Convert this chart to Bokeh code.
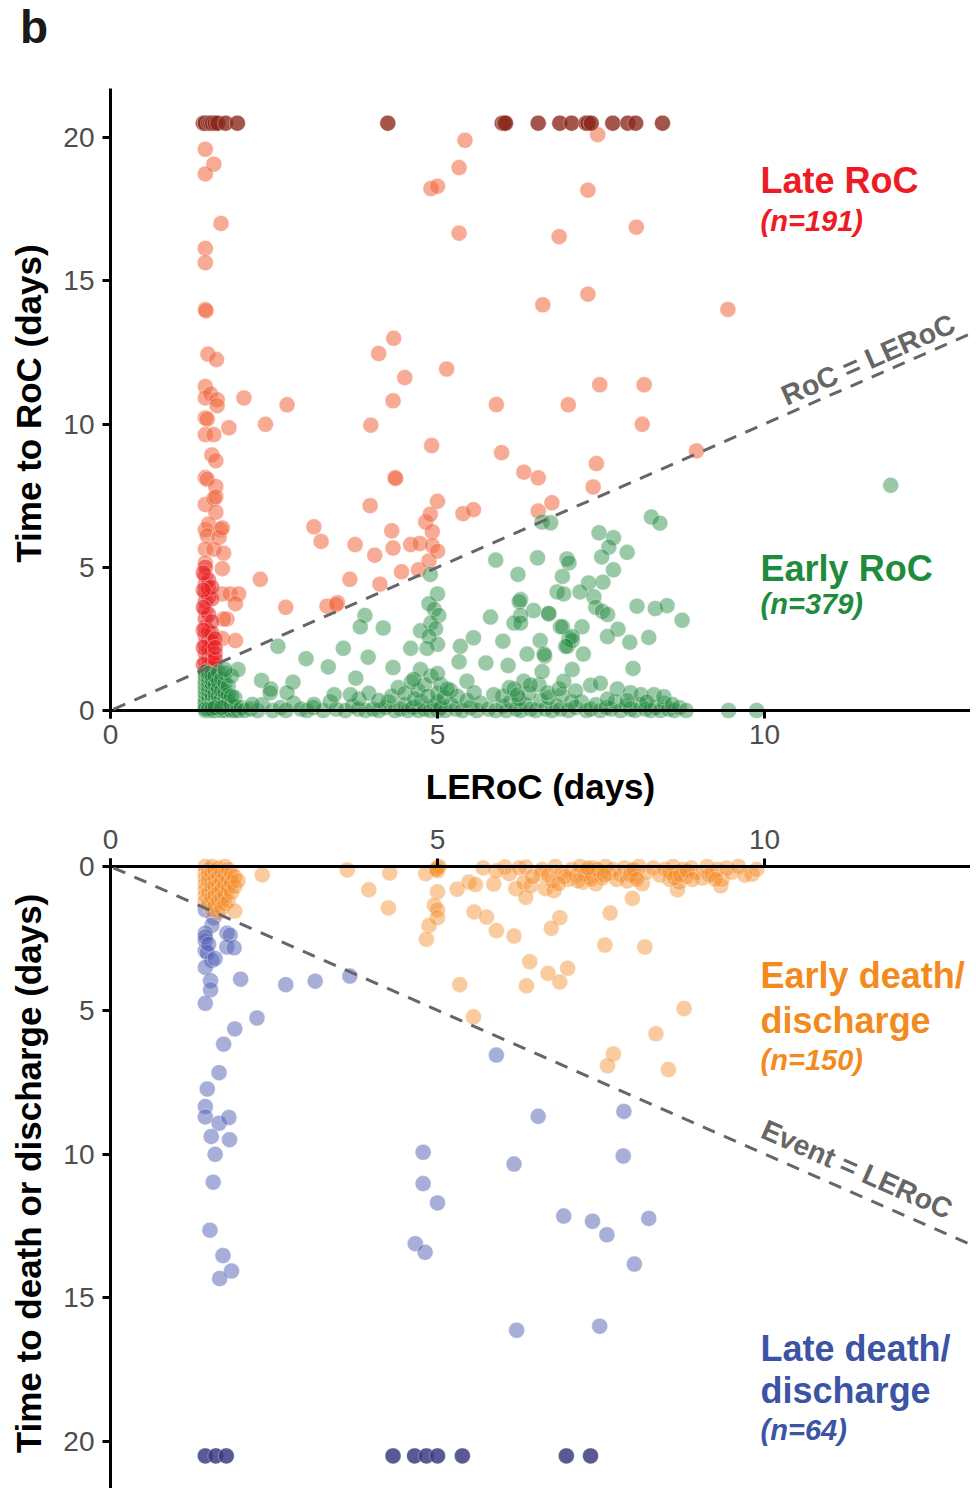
import math
from bokeh.plotting import figure
from bokeh.layouts import column
from bokeh.models import Range1d, FixedTicker, Label, Slope, Span, Div
from bokeh.embed import file_html
from bokeh.resources import INLINE

FONT = "Liberation Sans"
X_TICKS = [0, 5, 10]
Y_TICKS = [0, 5, 10, 15, 20]
CENSORED = 20.5

# ---------------- top panel: time to RoC vs LERoC ----------------
late_roc = [
    (1.45, 19.59), (1.58, 19.07), (1.45, 18.73), (1.69, 17.00), (1.45, 16.13), (1.45, 15.63),
    (1.45, 14.0), (1.46, 13.95), (1.49, 12.44), (1.62, 12.25), (1.45, 11.31), (1.45, 10.91),
    (1.53, 11.05), (1.63, 10.85), (1.63, 10.64), (2.04, 10.91), (2.70, 10.67), (2.37, 9.99),
    (1.81, 9.87), (1.45, 10.21), (1.48, 10.17), (1.45, 9.63), (1.58, 9.63), (1.55, 8.92),
    (1.61, 8.72), (1.45, 8.13), (1.48, 8.07), (1.61, 7.82), (1.45, 7.19), (1.58, 7.39),
    (1.61, 7.46), (1.61, 6.92), (1.45, 6.31), (1.50, 6.51), (1.48, 6.10), (1.68, 6.31),
    (1.66, 6.04), (1.71, 6.37), (1.45, 5.63), (1.58, 5.63), (1.73, 5.49), (1.45, 5.15),
    (1.71, 4.95), (1.71, 4.07), (1.83, 4.07), (1.96, 4.07), (1.91, 3.73), (1.78, 3.19),
    (1.73, 3.19), (1.71, 2.51), (1.91, 2.44), (2.29, 4.58), (2.68, 3.60), (3.11, 6.41),
    (3.22, 5.90), (3.31, 3.64), (3.47, 3.76), (3.45, 3.70), (3.66, 4.58), (3.74, 5.79),
    (3.97, 7.15), (4.04, 5.42), (4.12, 4.41), (3.98, 9.96), (4.10, 12.46), (4.33, 12.99),
    (4.50, 11.62), (4.32, 10.81), (4.30, 6.27), (4.32, 5.67), (4.35, 8.13), (4.36, 8.10),
    (4.45, 4.84), (4.59, 5.79), (4.73, 5.83), (4.71, 4.91), (4.87, 5.22), (4.82, 6.58),
    (4.89, 6.85), (4.92, 6.24), (4.92, 5.76), (5.00, 5.56), (5.00, 7.30), (4.91, 9.25),
    (5.14, 11.92), (5.33, 16.66), (4.90, 18.22), (5.00, 18.30), (5.33, 18.95), (5.42, 19.90),
    (5.39, 6.87), (5.55, 7.01), (5.90, 10.68), (5.98, 9.00), (6.32, 8.32), (6.54, 8.12),
    (6.75, 7.25), (6.54, 6.96), (6.61, 14.16), (6.86, 16.54), (7.00, 10.67), (7.45, 20.10),
    (7.30, 18.16), (8.04, 16.87), (7.30, 14.53), (9.44, 14.00), (7.48, 11.37), (8.16, 11.37),
    (8.13, 9.99), (8.96, 9.06), (7.43, 8.62), (7.38, 7.80),
]
late_roc_dense = [
    (1.45, 1.4), (1.45, 1.7), (1.45, 2.0), (1.45, 2.3), (1.45, 2.6), (1.45, 2.9), (1.45, 3.2),
    (1.45, 3.5), (1.45, 3.8), (1.45, 4.1), (1.45, 4.4), (1.45, 4.7), (1.45, 5.0),
    (1.50, 1.55), (1.50, 1.85), (1.50, 2.15), (1.50, 2.45), (1.50, 2.75), (1.50, 3.35),
    (1.50, 3.95), (1.50, 4.25), (1.50, 4.55), (1.55, 1.5), (1.55, 1.8), (1.55, 2.1),
    (1.55, 2.4), (1.55, 2.7), (1.55, 3.1), (1.55, 3.9), (1.55, 4.3), (1.42, 1.6), (1.42, 2.2),
    (1.42, 2.8), (1.42, 3.6), (1.42, 4.2), (1.42, 4.8), (1.60, 1.6), (1.60, 2.0), (1.60, 2.5),
    (1.60, 1.8), (1.60, 2.2),
]
late_roc_censored_x = [1.42, 1.45, 1.45, 1.50, 1.53, 1.56, 1.60, 1.64, 1.76, 1.94, 4.24,
                       5.99, 6.02, 6.04, 6.54, 6.87, 7.05, 7.27, 7.30, 7.35, 7.68, 7.91,
                       8.03, 8.44]

early_roc = [
    # dense cluster at LERoC ~1.5
    (1.45, 0.0), (1.45, 0.1), (1.45, 0.2), (1.45, 0.3), (1.45, 0.45), (1.45, 0.6), (1.45, 0.75),
    (1.45, 0.9), (1.45, 1.05), (1.45, 1.2), (1.45, 1.35), (1.50, 0.0), (1.50, 0.15), (1.50, 0.35),
    (1.50, 0.5), (1.50, 0.7), (1.50, 0.85), (1.50, 1.0), (1.50, 1.15), (1.50, 1.3), (1.55, 0.0),
    (1.55, 0.1), (1.55, 0.25), (1.55, 0.4), (1.55, 0.55), (1.55, 0.8), (1.55, 0.95), (1.55, 1.1),
    (1.55, 1.25), (1.60, 0.0), (1.60, 0.2), (1.60, 0.4), (1.60, 0.6), (1.60, 0.9), (1.60, 1.2),
    (1.65, 0.05), (1.65, 0.3), (1.65, 0.5), (1.65, 0.75), (1.65, 1.0), (1.65, 1.35), (1.70, 0.0),
    (1.70, 0.2), (1.70, 0.45), (1.70, 0.7), (1.70, 1.1), (1.75, 0.0), (1.75, 0.15), (1.75, 0.4),
    (1.75, 0.65), (1.75, 0.95), (1.75, 1.3), (1.80, 0.05), (1.80, 0.3), (1.80, 0.55), (1.80, 0.85),
    (1.85, 0.0), (1.85, 0.2), (1.85, 0.5), (1.85, 1.2), (1.90, 0.0), (1.90, 0.15), (1.90, 0.45),
    (1.95, 0.0), (2.00, 0.1), (1.45, 0.05), (1.50, 0.05), (1.55, 0.05), (1.60, 0.1), (1.70, 0.1),
    # strip along the axis
    (2.05, 0.0), (2.14, 0.05), (2.25, 0.0), (2.32, 0.2), (2.48, 0.0), (2.60, 0.1), (2.68, 0.0),
    (2.80, 0.25), (2.91, 0.05), (3.00, 0.0), (3.10, 0.1), (3.25, 0.0), (3.36, 0.3), (3.45, 0.05),
    (3.59, 0.0), (3.70, 0.15), (3.79, 0.05), (3.90, 0.0), (4.01, 0.05), (4.10, 0.0), (4.20, 0.1),
    (4.25, 0.3), (4.35, 0.0), (4.43, 0.05), (4.50, 0.2), (4.55, 0.0), (4.62, 0.1), (4.71, 0.0),
    (4.75, 0.3), (4.80, 0.05), (4.89, 0.0), (4.95, 0.15), (5.00, 0.0), (5.00, 0.3), (5.05, 0.1),
    (5.12, 0.0), (5.20, 0.2), (5.28, 0.05), (5.38, 0.0), (5.50, 0.1), (5.60, 0.0), (5.66, 0.25),
    (5.78, 0.05), (5.89, 0.0), (6.00, 0.15), (6.05, 0.0), (6.12, 0.3), (6.20, 0.05), (6.27, 0.0),
    (6.35, 0.2), (6.42, 0.05), (6.50, 0.0), (6.58, 0.35), (6.65, 0.05), (6.75, 0.0), (6.82, 0.15),
    (6.88, 0.05), (7.00, 0.0), (7.11, 0.1), (7.20, 0.3), (7.28, 0.0), (7.34, 0.05), (7.42, 0.2),
    (7.49, 0.0), (7.58, 0.1), (7.65, 0.05), (7.72, 0.3), (7.80, 0.0), (7.88, 0.15), (7.95, 0.05),
    (8.02, 0.0), (8.10, 0.2), (8.18, 0.05), (8.26, 0.0), (8.33, 0.1), (8.41, 0.0), (8.47, 0.25),
    (8.53, 0.05), (8.62, 0.0), (8.70, 0.1), (8.80, 0.0), (9.45, 0.0), (9.88, 0.0),
    # just above the axis
    (4.30, 0.5), (4.40, 0.8), (4.50, 0.6), (4.60, 1.0), (4.65, 0.4), (4.70, 0.7), (4.80, 0.9),
    (4.85, 0.5), (4.90, 1.2), (5.00, 0.6), (5.05, 0.9), (5.10, 0.45), (5.20, 0.7), (5.30, 0.5),
    (5.45, 0.35), (3.80, 0.4), (3.95, 0.6), (4.10, 0.35), (6.00, 0.5), (6.10, 0.8), (6.25, 0.4),
    (6.40, 0.6), (6.55, 0.9), (6.70, 0.45), (6.90, 0.55), (7.05, 0.3), (7.34, 0.88), (7.49, 0.95),
    (7.75, 0.75), (7.95, 0.62), (8.11, 0.55), (8.31, 0.55), (8.46, 0.48), (8.59, 0.21), (7.60, 0.4),
    (7.90, 0.35), (8.20, 0.3),
    # scattered
    (4.89, 4.75), (5.00, 4.07), (4.87, 3.73), (4.95, 3.53), (5.02, 3.32), (4.90, 3.05), (4.97, 2.85),
    (4.74, 2.78), (4.87, 2.58), (5.00, 2.31), (4.84, 2.17), (4.59, 2.17), (5.89, 5.25), (6.53, 5.33),
    (6.60, 6.58), (6.73, 6.55), (6.98, 5.29), (7.01, 5.15), (6.23, 4.75), (6.91, 4.68), (6.83, 4.14),
    (6.93, 4.07), (6.27, 3.87), (6.25, 3.80), (6.47, 3.49), (6.70, 3.37), (5.81, 3.26), (6.27, 3.32),
    (6.17, 3.05), (6.27, 3.05), (6.88, 2.92), (7.01, 2.51), (6.99, 2.24), (7.06, 2.44), (5.55, 2.54),
    (5.35, 2.24), (6.00, 2.42), (6.57, 2.44), (6.64, 1.90), (6.37, 1.97), (5.74, 1.66), (6.08, 1.57),
    (7.06, 1.43), (6.60, 1.36), (5.33, 1.70), (3.89, 3.32), (3.82, 2.92), (4.17, 2.88), (3.56, 2.17),
    (3.94, 1.86), (3.33, 1.52), (2.99, 1.81), (2.56, 2.24), (1.95, 1.43), (1.75, 1.43), (4.32, 1.50),
    (3.75, 1.13), (4.74, 1.43), (4.64, 1.09), (2.31, 1.05), (2.45, 0.75), (2.44, 0.62), (2.79, 0.99),
    (2.70, 0.62), (2.17, 0.21), (3.11, 0.21), (3.42, 0.55), (3.67, 0.55), (5.00, 1.29), (5.15, 0.75),
    (5.45, 1.02), (5.56, 0.62), (5.86, 0.55), (6.17, 0.75), (6.22, 0.55), (6.32, 1.02), (6.42, 0.89),
    (6.68, 0.62), (6.86, 0.75), (6.93, 1.02), (7.11, 0.68), (11.93, 7.86), (8.27, 6.75), (8.40, 6.54),
    (7.47, 6.20), (7.69, 6.03), (7.62, 5.70), (7.90, 5.52), (7.51, 5.36), (7.69, 4.91), (7.53, 4.48),
    (7.31, 4.45), (7.18, 4.14), (7.39, 3.97), (8.05, 3.64), (8.33, 3.56), (8.51, 3.66), (8.74, 3.15),
    (7.42, 3.60), (7.52, 3.46), (7.60, 3.35), (6.70, 3.39), (6.91, 2.92), (7.21, 2.92), (7.76, 2.84),
    (7.60, 2.58), (7.06, 2.58), (6.96, 2.24), (8.23, 2.55), (7.94, 2.38), (7.23, 1.97), (6.63, 1.97),
    (7.99, 1.47),
]

# ---------------- bottom panel: time to death or discharge ----------------
early_event = [
    (1.45, 0.0), (1.45, 0.2), (1.45, 0.4), (1.45, 0.6), (1.45, 0.8), (1.45, 1.0), (1.45, 1.2),
    (1.50, 0.1), (1.50, 0.3), (1.50, 0.5), (1.50, 0.9), (1.50, 1.3), (1.55, 0.0), (1.55, 0.25),
    (1.55, 0.55), (1.55, 0.75), (1.55, 1.1), (1.55, 1.5), (1.60, 0.15), (1.60, 0.45), (1.60, 0.7),
    (1.60, 1.0), (1.60, 1.35), (1.65, 0.05), (1.65, 0.35), (1.65, 0.65), (1.65, 0.9), (1.65, 1.2),
    (1.65, 1.6), (1.70, 0.2), (1.70, 0.5), (1.70, 0.8), (1.70, 1.1), (1.70, 1.45), (1.75, 0.0),
    (1.75, 0.3), (1.75, 0.6), (1.75, 1.0), (1.75, 1.3), (1.80, 0.1), (1.80, 0.45), (1.80, 0.75),
    (1.80, 1.2), (1.85, 0.25), (1.85, 0.55), (1.85, 0.9), (1.90, 0.35), (1.90, 0.7), (1.95, 0.5),
    (1.90, 1.55),
    (2.32, 0.29), (3.62, 0.12), (3.95, 0.81), (4.27, 0.23), (4.25, 1.44), (4.82, 0.25), (5.00, 0.05),
    (5.00, 0.15), (5.02, 0.0), (4.98, 0.1), (5.00, 0.88), (4.95, 1.35), (5.00, 1.51), (5.00, 1.78),
    (4.87, 2.05), (4.83, 2.53), (5.30, 0.79), (5.48, 0.54), (5.58, 0.63), (5.86, 0.61), (6.03, 0.02),
    (6.20, 0.77), (6.32, 0.56), (6.43, 0.66), (6.35, 1.07), (6.35, 0.02), (6.58, 0.27), (6.65, 0.77),
    (6.78, 0.84), (6.76, 0.50), (5.56, 1.58), (5.75, 1.76), (5.90, 2.23), (6.17, 2.42), (6.87, 1.78),
    (6.74, 2.15), (6.41, 3.31), (6.69, 3.72), (6.87, 4.02), (6.99, 3.54), (5.34, 4.11), (6.36, 4.15),
    (5.55, 5.23), (7.64, 1.62), (7.98, 1.11), (7.56, 2.73), (8.17, 2.80), (8.77, 4.94), (8.34, 5.82),
    (7.69, 6.52), (7.60, 6.93), (8.53, 7.06), (8.67, 0.81), (9.33, 0.67), (9.81, 0.27),
    (6.60, 0.1), (6.70, 0.3), (6.80, 0.0), (6.90, 0.2), (7.00, 0.45), (7.05, 0.1), (7.12, 0.3),
    (7.18, 0.0), (7.22, 0.55), (7.28, 0.15), (7.33, 0.35), (7.38, 0.05), (7.42, 0.6), (7.47, 0.2),
    (7.52, 0.4), (7.57, 0.0), (7.62, 0.25), (7.68, 0.1), (7.74, 0.45), (7.80, 0.3), (7.86, 0.05),
    (7.90, 0.5), (7.96, 0.15), (8.02, 0.35), (8.08, 0.0), (8.13, 0.6), (8.20, 0.2), (8.30, 0.05),
    (8.40, 0.3), (8.48, 0.1), (8.55, 0.45), (8.60, 0.0), (8.65, 0.25), (8.70, 0.55), (8.75, 0.1),
    (8.80, 0.35), (8.88, 0.05), (8.95, 0.2), (9.05, 0.4), (9.12, 0.0), (9.20, 0.25), (9.28, 0.1),
    (9.35, 0.45), (9.42, 0.05), (9.50, 0.2), (9.60, 0.0), (9.70, 0.3), (9.88, 0.1), (6.10, 0.25),
    (6.25, 0.05), (6.45, 0.35), (5.90, 0.15), (5.70, 0.05),
    (7.25, 0.25), (7.35, 0.45), (7.45, 0.1), (7.55, 0.3), (7.30, 0.05), (7.95, 0.3), (8.00, 0.1),
    (8.05, 0.45), (8.55, 0.2), (8.62, 0.4), (8.72, 0.3), (8.82, 0.15), (8.90, 0.45), (9.15, 0.3),
    (9.25, 0.45), (7.15, 0.5), (6.95, 0.35), (6.85, 0.6),
]
late_event = [
    (1.45, 1.51), (1.58, 1.78), (1.55, 2.05), (1.45, 2.32), (1.45, 2.59), (1.45, 2.93), (1.48, 3.00),
    (1.78, 2.32), (1.83, 2.39), (1.78, 2.80), (1.89, 2.83), (1.55, 3.27), (1.45, 3.51), (1.53, 3.97),
    (1.53, 4.29), (1.99, 3.92), (1.45, 4.76), (2.68, 4.11), (3.13, 3.99), (3.66, 3.81), (2.24, 5.27),
    (1.90, 5.65), (1.73, 6.18), (1.66, 7.17), (1.48, 7.74), (1.45, 8.35), (1.45, 8.71), (1.66, 8.93),
    (1.81, 8.73), (1.54, 9.39), (1.82, 9.50), (1.60, 10.01), (1.57, 10.98), (1.52, 12.65),
    (1.72, 13.53), (1.85, 14.07), (1.67, 14.33), (5.90, 6.56), (6.54, 8.69), (4.78, 9.94),
    (6.17, 10.35), (4.78, 11.03), (5.00, 11.70), (6.93, 12.16), (4.66, 13.12), (4.81, 13.42),
    (6.21, 16.13), (7.85, 8.52), (7.84, 10.07), (7.37, 12.34), (7.59, 12.81), (8.23, 12.24),
    (8.01, 13.83), (7.48, 15.99), (1.45, 2.45), (1.50, 2.70), (1.60, 3.20),
]
late_event_censored_x = [1.45, 1.61, 1.77, 4.32, 4.65, 4.83, 5.00, 5.38, 6.97, 7.34]

# ---------------- layout constants (page has no margin) ----------------
W = 970
LEFT = 110
FRAME_W = W - LEFT
PX_X = 65.4
X_END = FRAME_W / PX_X

HEAD_H = 54                      # "b" panel label
TOP_BT, TOP_FRAME, TOP_BB = 34, 630, 95
TOP_PX_Y = 28.65
BOT_BT, BOT_FRAME = 45, 630
BOT_PX_Y = 28.75
PAD = 8                          # points spill this far past the zero line

C_LATE = "#ED1C24"
C_EARLY = "#1E8C3C"
C_EDEATH = "#F28A1E"
C_LDEATH = "#3B54A4"
GREY = "#666666"


def unzip(pairs):
    return [p[0] for p in pairs], [p[1] for p in pairs]


def style_axis(ax):
    ax.axis_line_width = 3
    ax.axis_line_color = "black"
    ax.major_tick_line_width = 3
    ax.major_tick_line_color = "black"
    ax.minor_tick_out = 0
    ax.minor_tick_in = 0
    ax.major_label_text_font = FONT
    ax.major_label_text_font_size = "28px"
    ax.major_label_text_color = "#4d4d4d"
    ax.axis_label_text_font = FONT
    ax.axis_label_text_font_size = "35px"
    ax.axis_label_text_font_style = "bold"
    ax.axis_label_text_color = "black"


def style(p, ylabel, xlabel_standoff):
    p.grid.visible = False
    p.outline_line_color = None
    p.background_fill_color = "white"
    p.border_fill_color = "white"
    xa, ya = p.xaxis[0], p.yaxis[0]
    style_axis(xa)
    style_axis(ya)
    xa.ticker = FixedTicker(ticks=X_TICKS)
    ya.ticker = FixedTicker(ticks=Y_TICKS)
    # x axis line drawn as a span at zero; ticks reach from frame edge to the zero line
    xa.axis_line_color = None
    xa.major_tick_out = 0
    xa.major_tick_in = PAD
    xa.major_label_standoff = xlabel_standoff
    ya.major_tick_out = 8
    ya.major_tick_in = 0
    ya.major_label_standoff = 8
    ya.axis_label = ylabel
    ya.axis_label_standoff = 12
    p.add_layout(Span(location=0, dimension="width", line_color="black", line_width=3))


def pts(p, pairs, color, alpha):
    x, y = unzip(pairs)
    p.scatter(x, y, size=16, fill_color=color, fill_alpha=alpha,
              line_color="white", line_alpha=0.35, line_width=1)


def lab(p, x, y, text, color, size, style_, angle=0.0):
    p.add_layout(Label(x=x, y=y, text=text, text_color=color, text_font=FONT,
                       text_font_size=size, text_font_style=style_, angle=angle,
                       angle_units="deg", text_baseline="alphabetic", text_align="left"))


head = Div(text='<div style="font-family:\'Liberation Sans\';font-size:46px;font-weight:bold;'
                'line-height:1;margin:4px 0 0 20px;color:#1a1a1a">b</div>',
           width=120, height=HEAD_H, margin=0)

# ---------------- top figure ----------------
top_y0 = -PAD / TOP_PX_Y
top_y1 = top_y0 + TOP_FRAME / TOP_PX_Y
top = figure(width=W, height=TOP_BT + TOP_FRAME + TOP_BB,
             x_range=Range1d(0, X_END), y_range=Range1d(top_y0, top_y1),
             output_backend="svg", toolbar_location=None,
             min_border_left=LEFT, min_border_right=0,
             min_border_top=TOP_BT, min_border_bottom=TOP_BB)
style(top, "Time to RoC (days)", 6)
top.xaxis[0].axis_label = "LERoC (days)"
top.xaxis[0].axis_label_standoff = 20

pts(top, late_roc, "#F0643C", 0.55)
pts(top, late_roc_dense, "#E81E1E", 0.5)
pts(top, early_roc, "#1E873C", 0.45)
pts(top, list(zip(late_roc_censored_x, [CENSORED] * len(late_roc_censored_x))), "#8C2A1E", 0.8)

top.add_layout(Slope(gradient=1, y_intercept=0, line_color=GREY, line_width=3, line_dash="13 10"))
ang_top = math.degrees(math.atan(TOP_PX_Y / PX_X))
lab(top, 10.28, 10.95, "RoC = LERoC", GREY, "28.5px", "bold", ang_top)
lab(top, 9.94, 18.51, "Late RoC", C_LATE, "36px", "bold")
lab(top, 9.94, 17.09, "(n=191)", C_LATE, "29px", "bold italic")
lab(top, 9.94, 4.96, "Early RoC", C_EARLY, "36px", "bold")
lab(top, 9.94, 3.72, "(n=379)", C_EARLY, "29px", "bold italic")

# ---------------- bottom figure ----------------
bot_y0 = -PAD / BOT_PX_Y
bot_y1 = bot_y0 + BOT_FRAME / BOT_PX_Y
bot = figure(width=W, height=BOT_BT + BOT_FRAME,
             x_range=Range1d(0, X_END), y_range=Range1d(bot_y1, bot_y0),
             x_axis_location="above", output_backend="svg", toolbar_location=None,
             min_border_left=LEFT, min_border_right=0,
             min_border_top=BOT_BT, min_border_bottom=0)
style(bot, "Time to death or discharge (days)", 10)

pts(bot, late_event, "#5060B4", 0.5)
pts(bot, list(zip(late_event_censored_x, [CENSORED] * len(late_event_censored_x))), "#3C3C82", 0.85)
pts(bot, early_event, "#F58C28", 0.45)

bot.add_layout(Slope(gradient=1, y_intercept=0, line_color=GREY, line_width=3, line_dash="13 10"))
ang_bot = -math.degrees(math.atan(BOT_PX_Y / PX_X))
lab(bot, 9.98, 9.09, "Event = LERoC", GREY, "28.5px", "bold", ang_bot)
lab(bot, 9.94, 3.78, "Early death/", C_EDEATH, "36px", "bold")
lab(bot, 9.94, 5.35, "discharge", C_EDEATH, "36px", "bold")
lab(bot, 9.94, 6.72, "(n=150)", C_EDEATH, "29px", "bold italic")
lab(bot, 9.94, 16.78, "Late death/", C_LDEATH, "36px", "bold")
lab(bot, 9.94, 18.22, "discharge", C_LDEATH, "36px", "bold")
lab(bot, 9.94, 19.59, "(n=64)", C_LDEATH, "29px", "bold italic")

layout = column(head, top, bot, spacing=0)
open("out.html", "w").write(file_html(layout, INLINE))
